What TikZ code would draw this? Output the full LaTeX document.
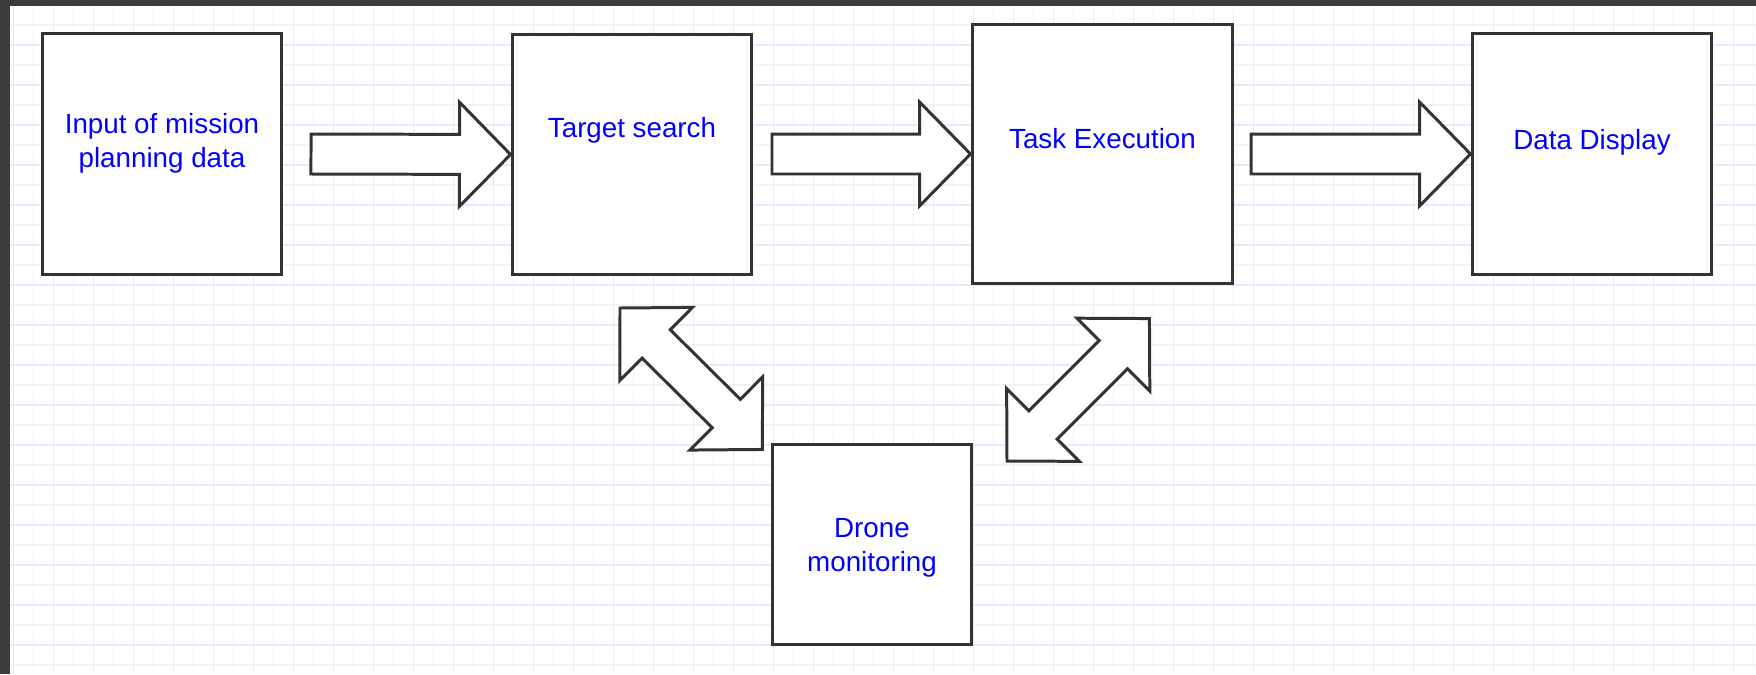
\documentclass[tikz,border=0pt]{standalone}
\usepackage{fontspec}
\setmainfont{Liberation Sans}
\usetikzlibrary{calc}
\definecolor{Sheet}{HTML}{FFFFFF}
\definecolor{Frame}{HTML}{3C3C3C}
\definecolor{GridMinor}{HTML}{F3F3FF}
\definecolor{GridMajor}{HTML}{E8E8FF}
\definecolor{Edge}{HTML}{333333}
\definecolor{Label}{HTML}{0000FF}

\newcommand\flowarrow[2]{\draw[fat] let \p1=($(#2)-(#1)$),\n1={atan2(\y1,\x1)},\n2={veclen(\x1,\y1)} in [shift={(#1)},rotate=\n1]
  (0pt,-0.4cm) -- ({\n2-1.02cm},-0.4cm) -- ({\n2-1.02cm},-1.04cm) -- (\n2,0pt) -- ({\n2-1.02cm},1.04cm) -- ({\n2-1.02cm},0.4cm) -- (0pt,0.4cm) -- cycle;}
\newcommand\twowayarrow[2]{\draw[fat] let \p1=($(#2)-(#1)$),\n1={atan2(\y1,\x1)},\n2={veclen(\x1,\y1)} in [shift={(#1)},rotate=\n1]
  (0pt,0pt) -- (1.02cm,1.03cm) -- (1.02cm,0.4cm) -- ({\n2-1.02cm},0.4cm) -- ({\n2-1.02cm},1.03cm) -- (\n2,0pt)
  -- ({\n2-1.02cm},-1.03cm) -- ({\n2-1.02cm},-0.4cm) -- (1.02cm,-0.4cm) -- (1.02cm,-1.03cm) -- cycle;}

\begin{document}
\begin{tikzpicture}[x=0.02cm,y=-0.02cm,box/.style={draw=Edge,line width=1.7pt,fill=white,minimum width=4.8cm,minimum height=4.82cm,inner sep=0pt},txt/.style={text=Label,font=\fontsize{15.8}{19.4}\selectfont,align=center,inner sep=0pt},fat/.style={draw=Edge,line width=1.7pt,fill=white,line join=miter}]
\useasboundingbox (0,0) rectangle (1756,674);
\fill[Sheet] (0,0) rectangle (1756,674);
\foreach \x in {33.3,73.3,...,1756}{\draw[GridMinor,line width=0.6pt] (\x,6)--(\x,674);}
\foreach \y in {25,65,...,674}{\draw[GridMinor,line width=0.6pt] (10,\y)--(1756,\y);}
\foreach \x in {13.3,53.3,...,1756}{\draw[GridMajor,line width=0.7pt] (\x,6)--(\x,674);}
\foreach \y in {45,85,...,674}{\draw[GridMajor,line width=0.7pt] (10,\y)--(1756,\y);}
\fill[Frame] (0,0) rectangle (10,674);
\fill[Frame] (0,0) rectangle (1756,6);

\node[box] (input) at (162,154) {};
\node[box] (search) at (632,154.5) {};
\node[box,minimum width=5.22cm,minimum height=5.2cm] (exec) at (1102.5,154) {};
\node[box] (display) at (1592,154) {};
\node[box,minimum width=4cm,minimum height=4cm] (drone) at (872,544.5) {};

\node[txt] (input-t) at (162,143) {Input of mission\\planning data};
\node[txt] (search-t) at (632,130) {Target search};
\node[txt] (exec-t) at (1102.5,139) {Task Execution};
\node[txt] (display-t) at (1592,142) {Data Display};
\node[txt] (drone-t) at (872,548) {Drone\\monitoring};

\coordinate (from-input) at (311,154);
\coordinate (from-search) at (772,154);
\coordinate (from-exec) at (1251,154);
\coordinate (search-end) at (620,308);
\coordinate (drone-endl) at (763,450);
\coordinate (drone-endr) at (1007,461);
\coordinate (exec-end) at (1150,318);

\flowarrow{from-input}{search.west}
\flowarrow{from-search}{exec.west}
\flowarrow{from-exec}{display.west}
\twowayarrow{search-end}{drone-endl}
\twowayarrow{drone-endr}{exec-end}
\end{tikzpicture}
\end{document}
